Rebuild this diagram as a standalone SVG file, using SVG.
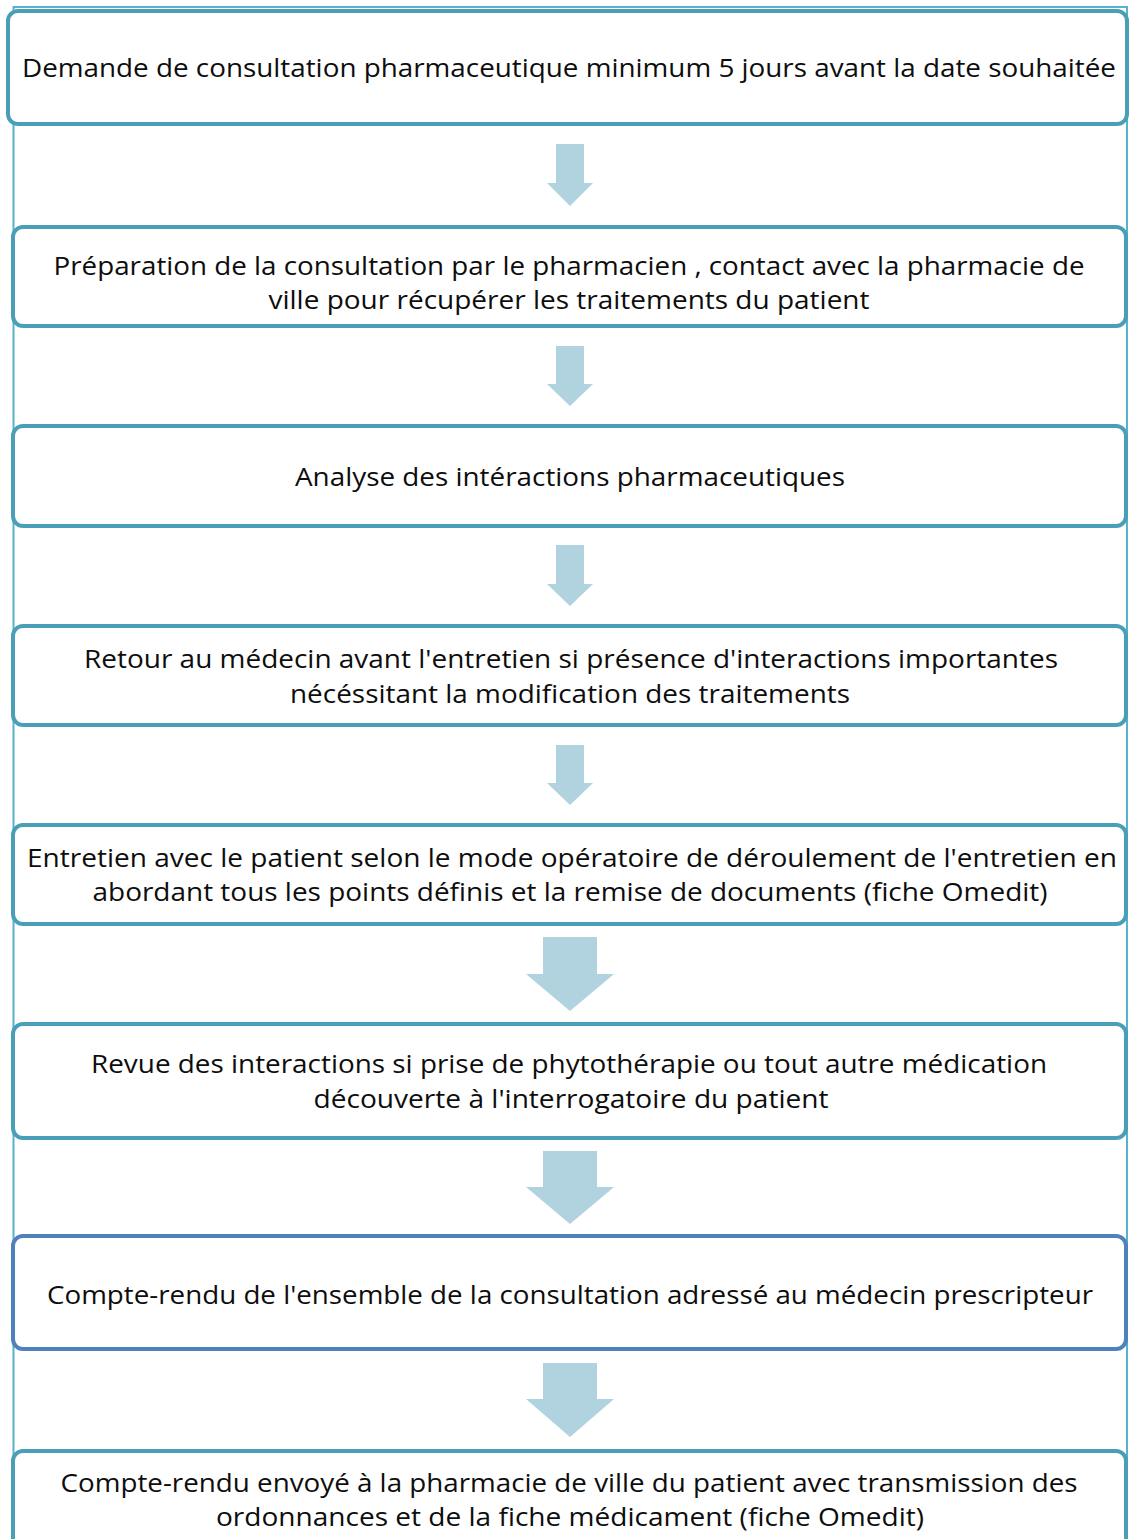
<svg xmlns="http://www.w3.org/2000/svg" width="1133" height="1539" viewBox="0 0 1133 1539">
<style>
.box{fill:#ffffff;stroke:#4a9fb8;stroke-width:4}
.box.blue{stroke:#4f81bd}
.frame{fill:none;stroke:#57b3cb;stroke-width:2}
.arrow{fill:#b1d3df}
text{font-family:"Open Sans","Noto Sans",sans-serif;font-size:26px;fill:#0d0d0d;text-anchor:middle}
</style>
<rect width="1133" height="1539" fill="#ffffff"/>
<rect class="frame" x="13.5" y="7" width="1113.5" height="1560"/>
<g id="connectors">
<polygon class="arrow" points="556,144 584,144 584,183 593,183 570,206 547,183 556,183"/>
<polygon class="arrow" points="556,346 584,346 584,384 593,384 570,406 547,384 556,384"/>
<polygon class="arrow" points="556,545 584,545 584,584 593,584 570,606 547,584 556,584"/>
<polygon class="arrow" points="556,745 584,745 584,783 593,783 570,805 547,783 556,783"/>
<polygon class="arrow" points="543,937 597,937 597,974 614,974 570,1011 526,974 543,974"/>
<polygon class="arrow" points="543,1151 597,1151 597,1187 614,1187 570,1224 526,1187 543,1187"/>
<polygon class="arrow" points="543,1363 597,1363 597,1399 614,1399 570,1437 526,1399 543,1399"/>
</g>
<g id="node1">
<rect class="box" x="8" y="11" width="1119" height="113" rx="10"/>
<text x="569" y="77" textLength="1094" lengthAdjust="spacingAndGlyphs">Demande de consultation pharmaceutique minimum 5 jours avant la date souhaitée</text>
</g>
<g id="node2">
<rect class="box" x="13" y="227" width="1113" height="99" rx="10"/>
<text x="569" y="275" textLength="1031" lengthAdjust="spacingAndGlyphs">Préparation de la consultation par le pharmacien , contact avec la pharmacie de</text>
<text x="569" y="309" textLength="601" lengthAdjust="spacingAndGlyphs">ville pour récupérer les traitements du patient</text>
</g>
<g id="node3">
<rect class="box" x="13" y="426" width="1113" height="100" rx="10"/>
<text x="570" y="486" textLength="550" lengthAdjust="spacingAndGlyphs">Analyse des intéractions pharmaceutiques</text>
</g>
<g id="node4">
<rect class="box" x="13" y="626" width="1113" height="99" rx="10"/>
<text x="571" y="668" textLength="974" lengthAdjust="spacingAndGlyphs">Retour au médecin avant l'entretien si présence d'interactions importantes</text>
<text x="570" y="703" textLength="560" lengthAdjust="spacingAndGlyphs">nécéssitant la modification des traitements</text>
</g>
<g id="node5">
<rect class="box" x="13" y="825" width="1113" height="99" rx="10"/>
<text x="572" y="867" textLength="1090" lengthAdjust="spacingAndGlyphs">Entretien avec le patient selon le mode opératoire de déroulement de l'entretien en</text>
<text x="570" y="901" textLength="955" lengthAdjust="spacingAndGlyphs">abordant tous les points définis et la remise de documents (fiche Omedit)</text>
</g>
<g id="node6">
<rect class="box" x="13" y="1024" width="1113" height="114" rx="10"/>
<text x="569" y="1073" textLength="956" lengthAdjust="spacingAndGlyphs">Revue des interactions si prise de phytothérapie ou tout autre médication</text>
<text x="571" y="1108" textLength="515" lengthAdjust="spacingAndGlyphs">découverte à l'interrogatoire du patient</text>
</g>
<g id="node7">
<rect class="box blue" x="13" y="1236" width="1113" height="113" rx="10"/>
<text x="570" y="1304" textLength="1046" lengthAdjust="spacingAndGlyphs">Compte-rendu de l'ensemble de la consultation adressé au médecin prescripteur</text>
</g>
<g id="node8">
<rect class="box" x="13" y="1451" width="1113" height="120" rx="10"/>
<text x="569" y="1492" textLength="1017" lengthAdjust="spacingAndGlyphs">Compte-rendu envoyé à la pharmacie de ville du patient avec transmission des</text>
<text x="570" y="1526" textLength="708" lengthAdjust="spacingAndGlyphs">ordonnances et de la fiche médicament (fiche Omedit)</text>
</g>
</svg>
